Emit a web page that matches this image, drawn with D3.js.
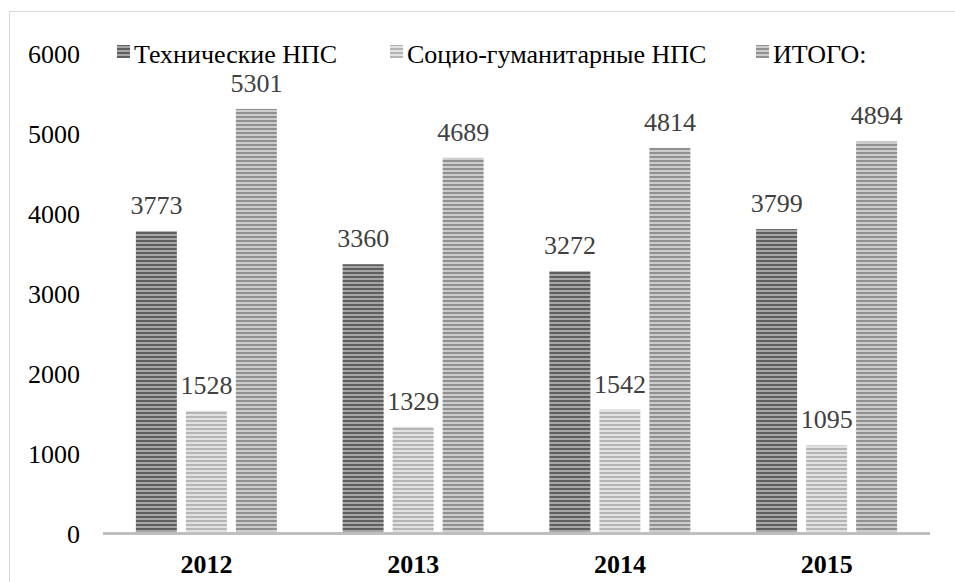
<!DOCTYPE html>
<html><head><meta charset="utf-8">
<script src="https://cdn.jsdelivr.net/npm/d3@7"></script>
<style>body{margin:0;background:#fff}svg{display:block}</style>
</head><body><svg id="c" width="955" height="582"></svg>
<script>
const years = ["2012","2013","2014","2015"];
const seriesNames = ["Технические НПС","Социо-гуманитарные НПС","ИТОГО:"];
const technical = [3773,3360,3272,3799];
const social = [1528,1329,1542,1095];
const total = [5301,4689,4814,4894];
const yTicks = [0,1000,2000,3000,4000,5000,6000];

const series = [technical, social, total];
const stripeA = ["#5e5e5e","#b4b4b4","#909090"];
const stripeB = ["#a6a6a6","#e2e2e2","#cdcdcd"];

const svg = d3.select("#c");
const font = "'Liberation Serif','Times New Roman',serif";

// chart border
svg.append("rect").attr("x",9.5).attr("y",11.5).attr("width",960).attr("height",600)
  .attr("fill","none").attr("stroke","#d9d9d9").attr("stroke-width",1);

const defs = svg.append("defs");
series.forEach((s,i)=>{
  const p = defs.append("pattern").attr("id","pat"+i).attr("patternUnits","userSpaceOnUse")
    .attr("width",8).attr("height",4);
  p.append("rect").attr("width",8).attr("height",4).attr("fill",stripeB[i]);
  p.append("rect").attr("y",0).attr("width",8).attr("height",2).attr("fill",stripeA[i]);
});

const x = d3.scaleBand().domain(years).range([103,930]).paddingInner(0).paddingOuter(0);
const y = d3.scaleLinear().domain([0,6000]).range([533,53]);
const barW = 41, step = 50;

// y tick labels
svg.append("g").selectAll("text").data(yTicks).join("text")
  .attr("x",80).attr("y",d=>y(d)+10).attr("text-anchor","end")
  .attr("font-family",font).attr("font-size",26).attr("fill","#000").text(d=>d);

// bars
series.forEach((s,i)=>{
  const g = svg.append("g");
  g.selectAll("rect").data(s).join("rect")
    .attr("x",(d,j)=>x(years[j])+x.bandwidth()/2-barW/2+(i-1)*step)
    .attr("y",d=>y(d)).attr("width",barW).attr("height",d=>y(0)-y(d))
    .attr("fill","url(#pat"+i+")");
  g.selectAll("text").data(s).join("text")
    .attr("x",(d,j)=>x(years[j])+x.bandwidth()/2+(i-1)*step)
    .attr("y",d=>y(d)-17).attr("text-anchor","middle")
    .attr("font-family",font).attr("font-size",26).attr("fill","#404040").text(d=>d);
});

// x axis line
svg.append("line").attr("x1",103).attr("x2",930).attr("y1",533.5).attr("y2",533.5)
  .attr("stroke","#bfbfbf").attr("stroke-width",3);

// year labels
svg.append("g").selectAll("text").data(years).join("text")
  .attr("x",d=>x(d)+x.bandwidth()/2).attr("y",573).attr("text-anchor","middle")
  .attr("font-family",font).attr("font-size",26).attr("font-weight","bold").attr("fill","#000").text(d=>d);

// legend
const legX = [117,390,756];
const leg = svg.append("g");
seriesNames.forEach((n,i)=>{
  leg.append("rect").attr("x",legX[i]).attr("y",45).attr("width",13).attr("height",13).attr("fill","url(#pat"+i+")");
  leg.append("text").attr("x",legX[i]+17).attr("y",63)
    .attr("font-family",font).attr("font-size",26).attr("fill","#000").text(n);
});
</script></body></html>
